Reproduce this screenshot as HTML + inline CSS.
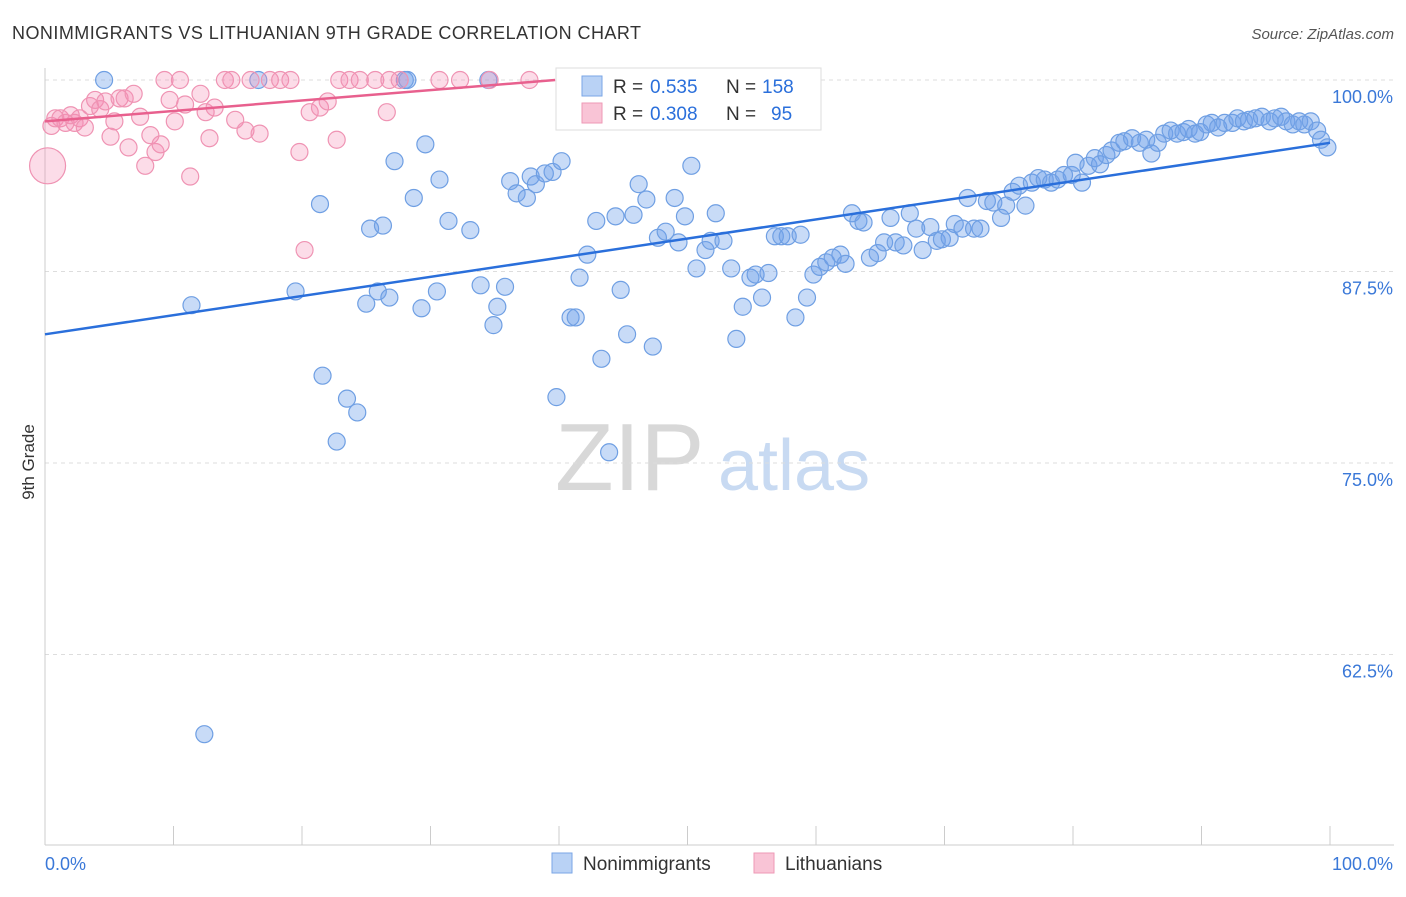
<!DOCTYPE html>
<html><head><meta charset="utf-8"><style>
body{margin:0;background:#fff;font-family:"Liberation Sans",sans-serif;}
svg text{font-family:"Liberation Sans",sans-serif;}
</style></head><body>
<svg id="c" width="1406" height="892">
<text x="12" y="39" font-size="18" fill="#333" textLength="629">NONIMMIGRANTS VS LITHUANIAN 9TH GRADE CORRELATION CHART</text>
<text x="1394" y="39" font-size="15" fill="#555" font-style="italic" text-anchor="end">Source: ZipAtlas.com</text>
<text x="34" y="462" font-size="17" fill="#333" transform="rotate(-90 34 462)" text-anchor="middle">9th Grade</text>
<text x="555" y="490" font-size="96" fill="#d8d8d8" font-family="Liberation Serif">ZIP</text>
<text x="718" y="490" font-size="72" fill="#c8daf2">atlas</text>
<g id="grid"></g><g id="pts"></g><g id="lines"></g>
<g>
<rect x="556" y="68" width="265" height="62" fill="#fff" stroke="#ddd"/>
<rect x="582" y="76" width="20" height="20" fill="#b9d2f5" stroke="#7aa6e6"/>
<rect x="582" y="103" width="20" height="20" fill="#f9c4d6" stroke="#ee99b6"/>
<text x="613" y="93" font-size="19" fill="#333">R =</text>
<text x="650" y="93" font-size="19" fill="#2a6fdb">0.535</text>
<text x="726" y="93" font-size="19" fill="#333">N =</text>
<text x="762" y="93" font-size="19" fill="#2a6fdb">158</text>
<text x="613" y="120" font-size="19" fill="#333">R =</text>
<text x="650" y="120" font-size="19" fill="#2a6fdb">0.308</text>
<text x="726" y="120" font-size="19" fill="#333">N =</text>
<text x="771" y="120" font-size="19" fill="#2a6fdb">95</text>
</g>
<g>
<rect x="552" y="853" width="20" height="20" fill="#b9d2f5" stroke="#7aa6e6"/>
<text x="583" y="870" font-size="19" fill="#333">Nonimmigrants</text>
<rect x="754" y="853" width="20" height="20" fill="#f9c4d6" stroke="#ee99b6"/>
<text x="785" y="870" font-size="19" fill="#333">Lithuanians</text>
</g>
</svg>
<script>
const yTicks=[100,87.5,75,62.5];
const yTickLabels=["100.0%","87.5%","75.0%","62.5%"];
const xEndLabels=["0.0%","100.0%"];
const blueX=[4.6,16.6,28,28.2,34.5,11.4,19.5,21.4,21.6,22.7,23.5,24.3,25,25.3,25.9,26.3,26.8,27.2,28.7,29.3,29.6,30.5,30.7,31.4,33.1,33.9,34.9,35.2,35.8,36.2,36.7,37.5,37.8,38.2,38.9,39.5,39.8,40.2,40.9,41.3,41.6,42.2,42.9,43.3,43.9,44.4,44.8,45.3,45.8,46.2,46.8,47.3,47.7,48.3,49,49.3,49.8,50.3,50.7,51.4,51.8,52.2,52.8,53.4,53.8,54.3,54.9,55.3,55.8,56.3,56.8,57.3,57.8,58.4,58.8,59.3,59.8,60.3,60.8,61.3,61.9,62.3,62.8,63.3,63.7,64.2,64.8,65.3,65.8,66.2,66.8,67.3,67.8,68.3,68.9,69.4,69.8,70.4,70.8,71.4,71.8,72.3,72.8,73.3,73.8,74.4,74.8,75.3,75.8,76.3,76.8,77.3,77.8,78.3,78.8,79.3,79.9,80.2,80.7,81.2,81.7,82.1,82.6,83,83.6,84,84.6,85.2,85.7,86.1,86.6,87.1,87.6,88.1,88.6,89,89.5,89.9,90.4,90.8,91.3,91.8,92.4,92.8,93.3,93.7,94.2,94.7,95.3,95.7,96.2,96.6,97.1,97.6,98,98.5,99,99.3,99.8,12.4];
const blueY=[100,100,100,100,100,85.3,86.2,91.9,80.7,76.4,79.2,78.3,85.4,90.3,86.2,90.5,85.8,94.7,92.3,85.1,95.8,86.2,93.5,90.8,90.2,86.6,84,85.2,86.5,93.4,92.6,92.3,93.7,93.2,93.9,94,79.3,94.7,84.5,84.5,87.1,88.6,90.8,81.8,75.7,91.1,86.3,83.4,91.2,93.2,92.2,82.6,89.7,90.1,92.3,89.4,91.1,94.4,87.7,88.9,89.5,91.3,89.5,87.7,83.1,85.2,87.1,87.3,85.8,87.4,89.8,89.8,89.8,84.5,89.9,85.8,87.3,87.8,88.1,88.4,88.6,88,91.3,90.8,90.7,88.4,88.7,89.4,91,89.4,89.2,91.3,90.3,88.9,90.4,89.5,89.6,89.7,90.6,90.3,92.3,90.3,90.3,92.1,92,91,91.8,92.7,93.1,91.8,93.3,93.6,93.5,93.3,93.5,93.8,93.8,94.6,93.3,94.4,94.9,94.5,95.1,95.4,95.9,96,96.2,95.9,96.1,95.2,95.9,96.5,96.7,96.5,96.6,96.8,96.5,96.6,97.1,97.2,96.9,97.2,97.2,97.5,97.3,97.4,97.5,97.6,97.3,97.5,97.6,97.3,97.1,97.3,97.1,97.3,96.7,96.1,95.6,57.3];
const pinkX=[0.2,0.5,0.8,1.2,1.6,2,2.3,2.7,3.1,3.5,3.9,4.3,4.7,5.1,5.4,5.8,6.2,6.5,6.9,7.4,7.8,8.2,8.6,9,9.3,9.7,10.1,10.5,10.9,11.3,12.1,12.5,12.8,13.2,14,14.5,14.8,15.6,16,16.7,17.5,18.3,19.1,19.8,20.2,20.6,21.4,22,22.7,22.9,23.7,24.5,25.7,26.6,26.8,27.6,30.7,32.3,34.6,37.7];
const pinkY=[94.4,97,97.5,97.5,97.2,97.7,97.2,97.5,96.9,98.3,98.7,98.1,98.6,96.3,97.3,98.8,98.8,95.6,99.1,97.6,94.4,96.4,95.3,95.8,100,98.7,97.3,100,98.4,93.7,99.1,97.9,96.2,98.2,100,100,97.4,96.7,100,96.5,100,100,100,95.3,88.9,97.9,98.2,98.6,96.1,100,100,100,100,97.9,100,100,100,100,100,100];
const blueLine=[[0,83.4],[100,95.9]];
const pinkLine=[[0,97.3],[39.7,100]];
const NS="http://www.w3.org/2000/svg";
const X0=45,X1=1330,Y100=80,PX_PER=191.5/12.5;
const sx=v=>X0+(X1-X0)*v/100, sy=v=>Y100+(100-v)*PX_PER;
function mk(t,a,p){const e=document.createElementNS(NS,t);for(const k in a)e.setAttribute(k,a[k]);p.appendChild(e);return e;}
const grid=document.getElementById('grid');
yTicks.forEach((t,i)=>{
 const l=mk('line',{x1:45,x2:1394,y1:sy(t),y2:sy(t),stroke:'#ddd','stroke-dasharray':'4,4'},grid);
 
 
 const tx=mk('text',{x:1393,y:sy(t)+23,'font-size':18,fill:'#3a78d8','text-anchor':'end'},grid);
 tx.textContent=yTickLabels[i];
 
 
});
const ax=mk('line',{x1:45,x2:45,y1:68,y2:845,stroke:'#ccc'},grid);


const bx=mk('line',{x1:45,x2:1394,y1:845,y2:845,stroke:'#ccc'},grid);


for(let i=0;i<=10;i++){const tk=mk('line',{x1:sx(i*10),x2:sx(i*10),y1:826,y2:845,stroke:'#ccc'},grid);
 
 }
[[45,'start',0],[1393,'end',1]].forEach(([x,a,i])=>{const t=mk('text',{x:x,y:870,'font-size':18,fill:'#3a78d8','text-anchor':a},grid);t.textContent=xEndLabels[i];
 
 });
const pts=document.getElementById('pts');
const n=Math.min(blueX.length,blueY.length);
for(let i=0;i<n;i++){const c=mk('circle',{cx:sx(blueX[i]),cy:sy(blueY[i]),r:8.5,fill:'rgba(110,160,235,0.38)',stroke:'#6f9fe3','stroke-width':1.2},pts);
 
 }
pinkX.forEach((v,i)=>{const c=mk('circle',{cx:sx(v),cy:sy(pinkY[i]),r:i==0?18:8.5,fill:'rgba(245,140,180,0.3)',stroke:'#ef93b3','stroke-width':1.2},pts);
 
 });
const lines=document.getElementById('lines');
const bl=mk('line',{x1:sx(blueLine[0][0]),y1:sy(blueLine[0][1]),x2:sx(blueLine[1][0]),y2:sy(blueLine[1][1]),stroke:'#2a6fdb','stroke-width':2.5},lines);


const pl=mk('line',{x1:sx(pinkLine[0][0]),y1:sy(pinkLine[0][1]),x2:sx(pinkLine[1][0]),y2:sy(pinkLine[1][1]),stroke:'#e8608e','stroke-width':2.5},lines);


</script>
</body></html>
